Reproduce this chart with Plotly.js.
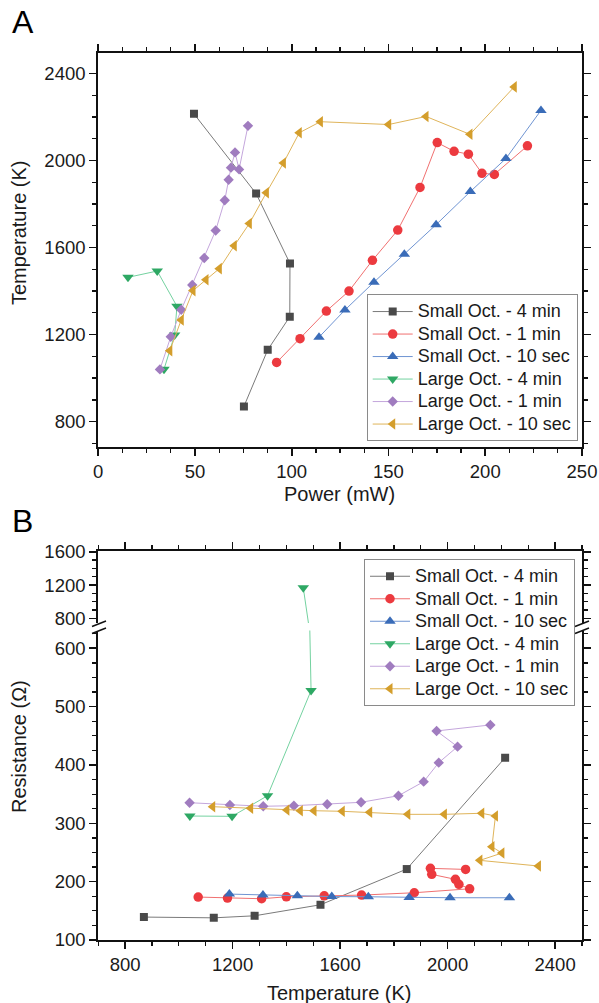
<!DOCTYPE html>
<html>
<head>
<meta charset="utf-8">
<script src="https://cdn.plot.ly/plotly-3.0.1.min.js"></script>
<style>
  html, body { margin: 0; padding: 0; background: #fff; }
  #chart { width: 599px; height: 1003px; }
</style>
</head>
<body>
<div id="chart"></div>
<script>
// ---------- data ----------
const seriesNames = ["Small Oct. - 4 min", "Small Oct. - 1 min", "Small Oct. - 10 sec",
                     "Large Oct. - 4 min", "Large Oct. - 1 min", "Large Oct. - 10 sec"];

const small4Power = [75.3, 87.6, 99.0, 99.1, 81.6, 49.5];
const small4Temp  = [870, 1130, 1282, 1527, 1848, 2214];
const small4Res   = [139.3, 138, 141.5, 160.4, 221.6, 412.5];

const small1Power = [92.2, 104.3, 117.9, 129.6, 141.7, 154.8, 166.3, 175.2, 183.9, 191.3, 198.3, 204.7, 221.8];
const small1Temp  = [1072, 1181, 1308, 1400, 1541, 1680, 1876, 2082, 2042, 2029, 1941, 1936, 2067];
const small1Res   = [173.6, 171.9, 170.7, 174.1, 175.8, 177, 181, 187.8, 195.4, 204, 212.5, 222.8, 221];

const small10Power = [114.1, 127.5, 142.5, 158.2, 174.6, 192.3, 210.7, 228.8];
const small10Temp  = [1188, 1313, 1441, 1569, 1705, 1857, 2009, 2230];
const small10Res   = [178.7, 177, 175.8, 174.5, 174.1, 173, 172.4, 172.4];

const large4Power = [34.0, 39.5, 40.7, 30.5, 15.4];
const large4Temp  = [1041, 1198, 1330, 1492, 1463];
const large4Res   = [312.5, 312, 347.3, 527.5, 1168];

const large1Power = [31.9, 37.5, 42.9, 48.6, 54.8, 60.7, 65.4, 67.4, 68.6, 70.7, 72.8, 77.4];
const large1Temp  = [1040, 1190, 1314, 1428, 1552, 1678, 1817, 1911, 1967, 2037, 1959, 2159];
const large1Res   = [335.3, 331.4, 329.2, 330.2, 332.6, 336, 347.3, 371.4, 404, 431.4, 458.3, 468.6];

const large10Power = [37.0, 42.9, 49.0, 55.7, 62.6, 70.3, 78.1, 86.9, 95.7, 103.9, 114.8, 150.1, 169.4, 192.1, 215.0];
const large10Temp  = [1126, 1267, 1402, 1452, 1503, 1608, 1710, 1852, 1988, 2127, 2178, 2165, 2202, 2120, 2338];
const large10Res   = [328.5, 325.7, 322.8, 321.6, 321.6, 320.6, 318.9, 315.4, 315.4, 317.2, 312.5, 259.9, 249, 236.5, 226.8];

const powerTickVals = [0, 50, 100, 150, 200, 250];
const tempTickValsA = [800, 1200, 1600, 2000, 2400];
const tempTickValsB = [800, 1200, 1600, 2000, 2400];
const resLowerTickVals = [100, 200, 300, 400, 500, 600];
const resUpperTickVals = [800, 1200, 1600];

// ---------- styles ----------
const styles = [
  {marker: '#4a4a4a', line: '#7a7a7a', symbol: 'square', size: 8},
  {marker: '#ec3a3f', line: '#f07070', symbol: 'circle', size: 9.5},
  {marker: '#3a6cb8', line: '#6f94d2', symbol: 'triangle-up', size: 10},
  {marker: '#2ea864', line: '#74d2a0', symbol: 'triangle-down', size: 10},
  {marker: '#a07cbf', line: '#c4a6dc', symbol: 'diamond', size: 8},
  {marker: '#d49e2c', line: '#dfb45a', symbol: 'triangle-left', size: 10}
];

const powers = [small4Power, small1Power, small10Power, large4Power, large1Power, large10Power];
const temps  = [small4Temp, small1Temp, small10Temp, large4Temp, large1Temp, large10Temp];
const ress   = [small4Res, small1Res, small10Res, large4Res, large1Res, large10Res];

const W = 599, H = 1003;
const px = v => v / W;
const py = v => (H - v) / H;

const FONT = 'Liberation Sans, Arial, sans-serif';
const TXT = '#1a1a1a';
const legendLabel = s => '<span style="font-size:18px">' + s + '</span>';

const traces = [];
// Panel A
for (let i = 0; i < 6; i++) {
  traces.push({
    type: 'scatter', mode: 'lines+markers', name: legendLabel(seriesNames[i]),
    x: powers[i], y: temps[i], xaxis: 'x', yaxis: 'y', legend: 'legend',
    line: {color: styles[i].line, width: 1},
    marker: {color: styles[i].marker, symbol: styles[i].symbol, size: styles[i].size, line: {width: 0}}
  });
}
// Panel B lower
for (let i = 0; i < 6; i++) {
  traces.push({
    type: 'scatter', mode: 'lines+markers', name: legendLabel(seriesNames[i]),
    x: temps[i], y: ress[i], xaxis: 'x2', yaxis: 'y2', legend: 'legend2',
    line: {color: styles[i].line, width: 1},
    marker: {color: styles[i].marker, symbol: styles[i].symbol, size: styles[i].size, line: {width: 0}}
  });
}
// Panel B upper (above the axis break)
for (let i = 0; i < 6; i++) {
  traces.push({
    type: 'scatter', mode: 'lines+markers', name: seriesNames[i], showlegend: false,
    x: temps[i], y: ress[i], xaxis: 'x3', yaxis: 'y3',
    line: {color: styles[i].line, width: 1},
    marker: {color: styles[i].marker, symbol: styles[i].symbol, size: styles[i].size, line: {width: 0}}
  });
}

const xDomain = [px(98.2), px(582)];
const axisBase = {
  showline: true, linecolor: '#111', linewidth: 2,
  ticks: 'outside', ticklen: 7, tickwidth: 1.6, tickcolor: '#111',
  showgrid: false, zeroline: false, automargin: false,
  tickfont: {family: FONT, size: 18.5, color: TXT}
};
const minorBase = {ticks: 'outside', ticklen: 4, tickwidth: 1.3, tickcolor: '#111', showgrid: false};
const legendBase = {
  xanchor: 'left', yanchor: 'top',
  bgcolor: '#fff', bordercolor: '#8a8a8a', borderwidth: 1,
  font: {family: FONT, size: 15, color: TXT}, tracegroupgap: 0, itemwidth: 40
};

const layout = {
  width: W, height: H,
  margin: {l: 0, r: 0, t: 0, b: 0},
  paper_bgcolor: '#fff', plot_bgcolor: '#fff',
  font: {family: FONT, color: TXT},
  showlegend: true,
  xaxis: Object.assign({}, axisBase, {
    domain: xDomain, anchor: 'y', range: [0, 250], tickvals: powerTickVals,
    mirror: 'allticks', minor: Object.assign({}, minorBase, {dtick: 12.5})
  }),
  yaxis: Object.assign({}, axisBase, {
    domain: [py(446.7), py(52.7)], anchor: 'x', range: [685, 2495], tickvals: tempTickValsA,
    mirror: 'allticks', minor: Object.assign({}, minorBase, {dtick: 100, tick0: 0})
  }),
  xaxis2: Object.assign({}, axisBase, {
    domain: xDomain, anchor: 'y2', range: [700, 2500], tickvals: tempTickValsB,
    mirror: false, minor: Object.assign({}, minorBase, {dtick: 100, tick0: 0})
  }),
  yaxis2: Object.assign({}, axisBase, {
    domain: [py(940), py(630.5)], anchor: 'x2', range: [100, 630.5], tickvals: resLowerTickVals,
    mirror: 'allticks', minor: Object.assign({}, minorBase, {dtick: 25, tick0: 0})
  }),
  xaxis3: Object.assign({}, axisBase, {
    domain: xDomain, anchor: 'y3', side: 'top', range: [700, 2500], tickvals: tempTickValsB,
    showticklabels: false, mirror: false, matches: 'x2',
    minor: Object.assign({}, minorBase, {dtick: 100, tick0: 0})
  }),
  yaxis3: Object.assign({}, axisBase, {
    domain: [py(623), py(550.7)], anchor: 'x3', range: [744, 1612], tickvals: resUpperTickVals,
    mirror: 'allticks', minor: Object.assign({}, minorBase, {dtick: 100, tick0: 0})
  }),
  legend: Object.assign({}, legendBase, {x: px(366.7), y: py(294.3)}),
  legend2: Object.assign({}, legendBase, {x: px(364), y: py(559)}),
  annotations: [
    {text: 'A', xref: 'paper', yref: 'paper', x: px(10), y: py(22), xanchor: 'left', yanchor: 'middle',
     showarrow: false, font: {family: FONT, size: 32, color: '#000'}},
    {text: 'B', xref: 'paper', yref: 'paper', x: px(10), y: py(521), xanchor: 'left', yanchor: 'middle',
     showarrow: false, font: {family: FONT, size: 32, color: '#000'}},
    {text: 'Temperature (K)', xref: 'paper', yref: 'paper', x: px(19), y: py(233), textangle: -90,
     xanchor: 'center', yanchor: 'middle', showarrow: false, font: {family: FONT, size: 20, color: TXT}},
    {text: 'Power (mW)', xref: 'paper', yref: 'paper', x: px(340), y: py(494),
     xanchor: 'center', yanchor: 'middle', showarrow: false, font: {family: FONT, size: 20, color: TXT}},
    {text: 'Resistance (Ω)', xref: 'paper', yref: 'paper', x: px(19), y: py(747), textangle: -90,
     xanchor: 'center', yanchor: 'middle', showarrow: false, font: {family: FONT, size: 20, color: TXT}},
    {text: 'Temperature (K)', xref: 'paper', yref: 'paper', x: px(340), y: py(993),
     xanchor: 'center', yanchor: 'middle', showarrow: false, font: {family: FONT, size: 20, color: TXT}}
  ],
  shapes: [
    // axis break marks (left and right)
    {type: 'line', xref: 'paper', yref: 'paper', x0: px(92), y0: py(626.5), x1: px(106), y1: py(621.0), line: {color: '#111', width: 1.5}},
    {type: 'line', xref: 'paper', yref: 'paper', x0: px(92), y0: py(633.5), x1: px(106), y1: py(628.0), line: {color: '#111', width: 1.5}},
    {type: 'line', xref: 'paper', yref: 'paper', x0: px(575), y0: py(626.5), x1: px(589), y1: py(621.0), line: {color: '#111', width: 1.5}},
    {type: 'line', xref: 'paper', yref: 'paper', x0: px(575), y0: py(633.5), x1: px(589), y1: py(628.0), line: {color: '#111', width: 1.5}}
  ]
};

Plotly.newPlot('chart', traces, layout, {displayModeBar: false, staticPlot: true});
</script>
</body>
</html>
